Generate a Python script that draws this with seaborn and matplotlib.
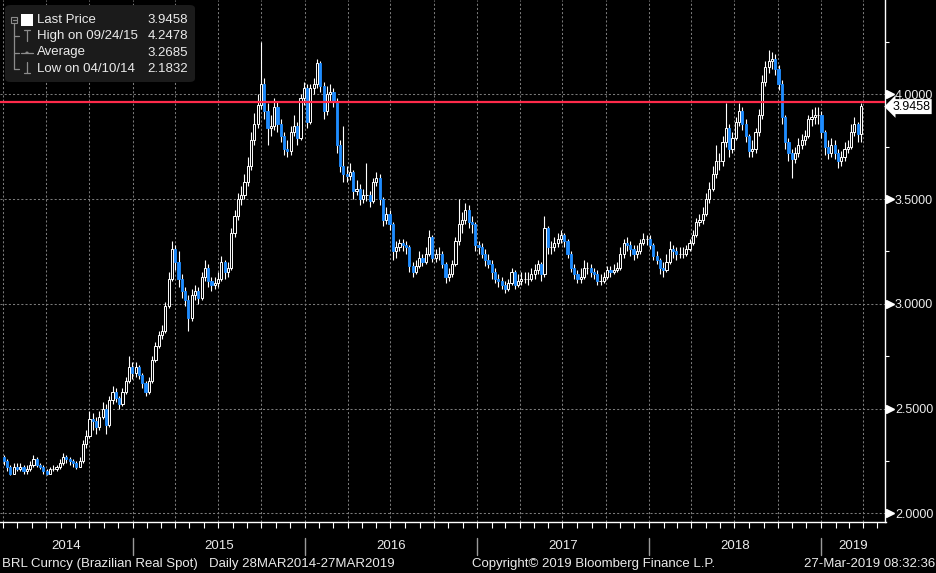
import numpy as np
import pandas as pd
import seaborn as sns
import matplotlib.pyplot as plt
import matplotlib.dates as mdates
from matplotlib.ticker import MultipleLocator, NullFormatter
from matplotlib.patches import FancyBboxPatch, Rectangle, Circle
from matplotlib.lines import Line2D
from matplotlib.transforms import ScaledTranslation

# weekly candles (BRL per USD), Apr 2014 - Mar 2019
first_open = 2.27
closes = [
    2.25, 2.22, 2.19, 2.22, 2.21, 2.22, 2.20, 2.21, 2.23, 2.26,
    2.23, 2.22, 2.20, 2.19, 2.21, 2.21, 2.22, 2.24, 2.27, 2.26,
    2.25, 2.24, 2.22, 2.25, 2.33, 2.37, 2.45, 2.44, 2.41, 2.46,
    2.50, 2.42, 2.54, 2.58, 2.55, 2.52, 2.58, 2.63, 2.70, 2.67,
    2.70, 2.66, 2.62, 2.58, 2.63, 2.73, 2.80, 2.85, 2.87, 2.99,
    3.12, 3.26, 3.20, 3.12, 3.06, 3.02, 2.93, 3.04, 3.06, 3.03,
    3.13, 3.17, 3.11, 3.09, 3.10, 3.12, 3.20, 3.15, 3.17, 3.34,
    3.42, 3.50, 3.52, 3.58, 3.66, 3.78, 3.86, 3.95, 4.05, 3.92,
    3.84, 3.85, 3.94, 3.86, 3.80, 3.74, 3.73, 3.82, 3.85, 3.79,
    3.98, 4.03, 3.87, 4.03, 4.05, 4.15, 4.04, 3.92, 4.00, 4.01,
    3.97, 3.76, 3.66, 3.62, 3.61, 3.63, 3.54, 3.55, 3.50, 3.52,
    3.52, 3.49, 3.58, 3.60, 3.50, 3.40, 3.43, 3.38, 3.25, 3.27,
    3.29, 3.28, 3.27, 3.18, 3.15, 3.18, 3.22, 3.20, 3.24, 3.32,
    3.22, 3.24, 3.24, 3.19, 3.13, 3.14, 3.19, 3.30, 3.38, 3.40,
    3.45, 3.39, 3.38, 3.28, 3.27, 3.24, 3.21, 3.19, 3.15, 3.12,
    3.11, 3.09, 3.07, 3.10, 3.15, 3.09, 3.11, 3.12, 3.12, 3.12,
    3.14, 3.16, 3.19, 3.14, 3.36, 3.27, 3.27, 3.29, 3.31, 3.33,
    3.30, 3.24, 3.17, 3.14, 3.12, 3.13, 3.17, 3.17, 3.15, 3.14,
    3.11, 3.11, 3.13, 3.16, 3.15, 3.16, 3.17, 3.24, 3.29, 3.28,
    3.26, 3.24, 3.25, 3.29, 3.31, 3.31, 3.28, 3.23, 3.21, 3.17,
    3.16, 3.20, 3.26, 3.25, 3.24, 3.24, 3.24, 3.26, 3.29, 3.33,
    3.39, 3.40, 3.43, 3.50, 3.55, 3.62, 3.68, 3.68, 3.77, 3.84,
    3.74, 3.79, 3.87, 3.92, 3.86, 3.80, 3.73, 3.74, 3.82, 3.90,
    4.06, 4.13, 4.16, 4.17, 4.12, 4.05, 3.89, 3.77, 3.72, 3.69,
    3.72, 3.76, 3.78, 3.80, 3.88, 3.89, 3.90, 3.90, 3.82, 3.75,
    3.72, 3.76, 3.72, 3.68, 3.70, 3.74, 3.75, 3.82, 3.86, 3.81,
    3.9458,
]
highs = [
    2.28, 2.26, 2.23, 2.24, 2.24, 2.24, 2.23, 2.23, 2.25, 2.28,
    2.27, 2.24, 2.23, 2.21, 2.22, 2.23, 2.23, 2.26, 2.29, 2.28,
    2.27, 2.26, 2.25, 2.27, 2.35, 2.40, 2.49, 2.48, 2.46, 2.49,
    2.53, 2.52, 2.56, 2.61, 2.60, 2.56, 2.60, 2.65, 2.75, 2.72,
    2.72, 2.71, 2.67, 2.63, 2.65, 2.75, 2.82, 2.87, 2.90, 3.01,
    3.15, 3.30, 3.28, 3.25, 3.14, 3.08, 3.04, 3.07, 3.09, 3.08,
    3.15, 3.21, 3.19, 3.13, 3.13, 3.15, 3.23, 3.21, 3.20, 3.36,
    3.45, 3.53, 3.56, 3.62, 3.70, 3.82, 3.91, 4.00, 4.2478, 4.08,
    3.96, 3.90, 3.98, 3.97, 3.88, 3.82, 3.78, 3.85, 3.90, 3.87,
    4.00, 4.06, 4.05, 4.05, 4.08, 4.17, 4.16, 4.06, 4.04, 4.05,
    4.03, 3.98, 3.78, 3.85, 3.66, 3.67, 3.64, 3.59, 3.57, 3.55,
    3.67, 3.54, 3.60, 3.63, 3.62, 3.51, 3.46, 3.45, 3.39, 3.30,
    3.31, 3.31, 3.30, 3.28, 3.20, 3.21, 3.25, 3.24, 3.27, 3.35,
    3.33, 3.26, 3.27, 3.25, 3.20, 3.17, 3.21, 3.32, 3.50, 3.44,
    3.48, 3.47, 3.42, 3.39, 3.30, 3.29, 3.26, 3.24, 3.21, 3.17,
    3.14, 3.13, 3.11, 3.12, 3.17, 3.16, 3.14, 3.15, 3.15, 3.15,
    3.17, 3.19, 3.21, 3.20, 3.42, 3.37, 3.30, 3.32, 3.34, 3.35,
    3.34, 3.31, 3.25, 3.19, 3.16, 3.17, 3.21, 3.20, 3.19, 3.17,
    3.16, 3.14, 3.15, 3.18, 3.18, 3.19, 3.20, 3.27, 3.31, 3.32,
    3.30, 3.28, 3.28, 3.31, 3.34, 3.33, 3.33, 3.29, 3.25, 3.22,
    3.20, 3.24, 3.30, 3.28, 3.27, 3.27, 3.27, 3.28, 3.31, 3.35,
    3.41, 3.43, 3.46, 3.53, 3.58, 3.66, 3.76, 3.72, 3.80, 3.96,
    3.86, 3.82, 3.89, 3.96, 3.94, 3.88, 3.81, 3.78, 3.84, 3.93,
    4.09, 4.16, 4.21, 4.20, 4.19, 4.14, 4.07, 3.90, 3.79, 3.74,
    3.75, 3.79, 3.81, 3.83, 3.90, 3.93, 3.94, 3.94, 3.92, 3.83,
    3.78, 3.79, 3.78, 3.74, 3.73, 3.77, 3.78, 3.86, 3.89, 3.87,
    3.96,
]
lows = [
    2.23, 2.20, 2.1832, 2.19, 2.20, 2.20, 2.19, 2.19, 2.20, 2.22,
    2.22, 2.21, 2.19, 2.185, 2.19, 2.20, 2.20, 2.21, 2.23, 2.24,
    2.23, 2.22, 2.21, 2.22, 2.24, 2.31, 2.36, 2.40, 2.38, 2.40,
    2.45, 2.38, 2.41, 2.52, 2.53, 2.50, 2.51, 2.57, 2.62, 2.64,
    2.65, 2.64, 2.60, 2.56, 2.57, 2.62, 2.72, 2.79, 2.83, 2.86,
    2.98, 3.11, 3.16, 3.08, 3.03, 2.99, 2.87, 2.92, 3.02, 3.00,
    3.02, 3.11, 3.08, 3.06, 3.07, 3.08, 3.11, 3.12, 3.13, 3.16,
    3.32, 3.40, 3.47, 3.50, 3.56, 3.64, 3.76, 3.84, 3.93, 3.88,
    3.76, 3.80, 3.83, 3.82, 3.77, 3.71, 3.70, 3.71, 3.80, 3.76,
    3.78, 3.95, 3.84, 3.86, 4.00, 4.03, 4.01, 3.88, 3.90, 3.97,
    3.94, 3.72, 3.63, 3.58, 3.58, 3.59, 3.50, 3.52, 3.47, 3.48,
    3.49, 3.46, 3.48, 3.56, 3.47, 3.37, 3.38, 3.35, 3.21, 3.22,
    3.25, 3.25, 3.24, 3.15, 3.13, 3.14, 3.17, 3.18, 3.19, 3.23,
    3.20, 3.20, 3.21, 3.17, 3.10, 3.11, 3.13, 3.18, 3.28, 3.34,
    3.38, 3.36, 3.34, 3.25, 3.24, 3.22, 3.18, 3.17, 3.12, 3.10,
    3.08, 3.07, 3.05, 3.06, 3.09, 3.07, 3.08, 3.09, 3.10, 3.09,
    3.11, 3.12, 3.14, 3.11, 3.13, 3.24, 3.24, 3.25, 3.27, 3.29,
    3.27, 3.22, 3.15, 3.12, 3.10, 3.10, 3.12, 3.14, 3.13, 3.12,
    3.09, 3.09, 3.10, 3.12, 3.13, 3.14, 3.15, 3.16, 3.22, 3.25,
    3.23, 3.21, 3.22, 3.24, 3.28, 3.28, 3.26, 3.21, 3.19, 3.14,
    3.13, 3.15, 3.19, 3.22, 3.21, 3.22, 3.22, 3.23, 3.25, 3.28,
    3.32, 3.37, 3.38, 3.42, 3.48, 3.54, 3.60, 3.64, 3.66, 3.75,
    3.70, 3.72, 3.78, 3.85, 3.83, 3.77, 3.70, 3.70, 3.72, 3.80,
    3.88, 4.04, 4.10, 4.12, 4.09, 4.02, 3.86, 3.74, 3.68, 3.60,
    3.67, 3.70, 3.74, 3.76, 3.79, 3.85, 3.86, 3.86, 3.79, 3.71,
    3.69, 3.70, 3.69, 3.65, 3.66, 3.68, 3.72, 3.74, 3.80, 3.77,
    3.77,
]

last_price = 3.9458
legend_labels = ["Last Price", "High on 09/24/15", "Average", "Low on 04/10/14"]
legend_values = ["3.9458", "4.2478", "3.2685", "2.1832"]
y_ticks = [2.0, 2.5, 3.0, 3.5, 4.0]
years = [2014, 2015, 2016, 2017, 2018, 2019]

W, H = 937, 573
BLUE = "#1e8cff"
RED = "#ff2a4a"
GRID = "#7a7a7a"
TXT = "#ebebeb"
ICON = "#8c8c8c"

sns.set_theme(style="dark", rc={"axes.facecolor": "black", "figure.facecolor": "black"})
plt.rcParams["font.family"] = ["Liberation Sans", "DejaVu Sans"]

df = pd.DataFrame({
    "date": pd.date_range(end="2019-03-27", periods=len(closes), freq="7D"),
    "close": closes, "high": highs, "low": lows,
})
df["open"] = [first_open] + closes[:-1]
df["x"] = mdates.date2num(df["date"])
df["up"] = df["close"] >= df["open"]


def fx(x, y):
    # screen pixel -> figure fraction
    return x / W, 1 - y / H


fig = plt.figure(figsize=(W / 100, H / 100), dpi=100)
fig.patch.set_facecolor("black")
ax = fig.add_axes([0, 1 - 521.5 / H, 885.5 / W, 521.5 / H])
ax.set_facecolor("black")

# candles: hollow white = up week, solid blue = down week
ax.vlines(df["x"], df["low"], df["high"], color="white", lw=0.8, zorder=3)
up = df[df["up"]]
dn = df[~df["up"]]
ax.bar(up["x"], up["close"] - up["open"], bottom=up["open"], width=4.6,
       color="black", edgecolor="white", linewidth=0.7, zorder=4)
ax.bar(dn["x"], dn["open"] - dn["close"], bottom=dn["close"], width=4.6,
       color=BLUE, edgecolor=BLUE, linewidth=0.6, zorder=4)

# last price line (Bloomberg draws it a few px above the tick scale)
shift = ScaledTranslation(0, 3.5 / 100, fig.dpi_scale_trans)
ax.plot([0, 1], [last_price, last_price], transform=ax.get_yaxis_transform() + shift,
        color=RED, lw=1.6, zorder=5)

ax.set_xlim(mdates.date2num(pd.Timestamp("2014-03-25")), mdates.date2num(pd.Timestamp("2019-05-18")))
ax.set_ylim(1.961, 4.450)

for s in ["left", "top"]:
    ax.spines[s].set_visible(False)
for s in ["right", "bottom"]:
    ax.spines[s].set_visible(True)
    ax.spines[s].set_color("white")
    ax.spines[s].set_linewidth(1)

ax.xaxis.set_major_locator(mdates.MonthLocator(bymonth=[1, 4, 7, 10]))
ax.xaxis.set_minor_locator(mdates.MonthLocator())
ax.xaxis.set_major_formatter(NullFormatter())
ax.tick_params(axis="x", which="both", direction="out", length=4, width=0.8,
               color="white", labelbottom=False, bottom=True)

ax.yaxis.tick_right()
ax.set_yticks(y_ticks)
ax.set_yticklabels([f"{v:.4f}" for v in y_ticks])
ax.yaxis.set_minor_locator(MultipleLocator(0.25))
ax.tick_params(axis="y", which="major", length=0, pad=6.8, labelsize=9, labelcolor=TXT)
ax.tick_params(axis="y", which="minor", length=3, width=0.8, color="white",
               direction="out", right=True)
ax.grid(True, which="major", color=GRID, ls=(0, (2, 2)), lw=0.75)
ax.grid(False, which="minor")
ax.set_axisbelow(True)

# flag markers at the price ticks
ax.plot(np.full(len(y_ticks), 1.005), y_ticks, transform=ax.get_yaxis_transform(),
        ls="none", marker=">", ms=5.5, color="white", clip_on=False, zorder=6)

# last price tag
ax.annotate(f"{last_price:.4f}", xy=(1.0, last_price), xycoords=ax.get_yaxis_transform(),
            xytext=(4.8, -0.7), textcoords="offset points", ha="left", va="center",
            fontsize=9, color="black", annotation_clip=False, zorder=10,
            bbox=dict(boxstyle="larrow,pad=0.12", fc="white", ec="none"))

# year bands under the axis
trans = ax.get_xaxis_transform()
x0, x1 = ax.get_xlim()
for yr in years:
    start = max(mdates.date2num(pd.Timestamp(f"{yr}-01-01")), x0)
    end = min(mdates.date2num(pd.Timestamp(f"{yr + 1}-01-01")), x1)
    ax.text((start + end) / 2, -0.047, str(yr), transform=trans, ha="center",
            va="center", fontsize=9.5, color=TXT)
    if start > x0:
        ax.plot([start, start], [-0.032, -0.064], transform=trans, color="#9a9a9a",
                lw=1, clip_on=False)

# footer
fig.text(*fx(2, 564), "BRL Curncy (Brazilian Real Spot)", ha="left", va="center", fontsize=9.5, color=TXT)
fig.text(*fx(209, 564), "Daily 28MAR2014-27MAR2019", ha="left", va="center", fontsize=9.5, color=TXT)
fig.text(*fx(472, 564), "Copyright\u00a9 2019 Bloomberg Finance L.P.", ha="left", va="center", fontsize=9.5, color=TXT)
fig.text(*fx(935, 564), "27-Mar-2019 08:32:36", ha="right", va="center", fontsize=9.5, color=TXT)

# legend panel
fig.add_artist(FancyBboxPatch(fx(5, 82), 190 / W, 77 / H, boxstyle="round,pad=0,rounding_size=0.006",
                              transform=fig.transFigure, fc="#1b1b1b", ec="none", zorder=20))
rows_y = [20, 36, 52.5, 68.5]
for lab, val, ry in zip(legend_labels, legend_values, rows_y):
    fig.text(*fx(37, ry), lab, ha="left", va="center", fontsize=9.5, color=TXT, zorder=21)
    fig.text(*fx(188, ry), val, ha="right", va="center", fontsize=9.5, color=TXT, zorder=21)


def seg(p, q, **kw):
    fig.add_artist(Line2D([p[0] / W, q[0] / W], [1 - p[1] / H, 1 - q[1] / H],
                          transform=fig.transFigure, color=ICON, lw=0.9, zorder=21, **kw))


fig.add_artist(Rectangle(fx(11.5, 22.5), 5.5 / W, 5.5 / H, transform=fig.transFigure,
                         fc="none", ec=ICON, lw=0.8, zorder=21))
seg((12.5, 19.8), (16, 19.8))
fig.add_artist(Rectangle(fx(21.5, 25.5), 11.5 / W, 11.5 / H, transform=fig.transFigure,
                         fc="white", ec="none", zorder=21))
seg((14.2, 22.5), (14.2, 68.5))
for ry in rows_y[1:]:
    seg((14.2, ry), (18.5, ry))
seg((26.8, 30), (26.8, 41))
seg((24, 30), (29.6, 30))
seg((21, 52.5), (33, 52.5))
fig.add_artist(Circle(fx(27, 52.5), 1.6 / W, transform=fig.transFigure, fc=ICON, ec="none", zorder=22))
seg((26.8, 62), (26.8, 73))
seg((24, 73), (29.6, 73))

fig.savefig("out.png", dpi=100, facecolor="black")
